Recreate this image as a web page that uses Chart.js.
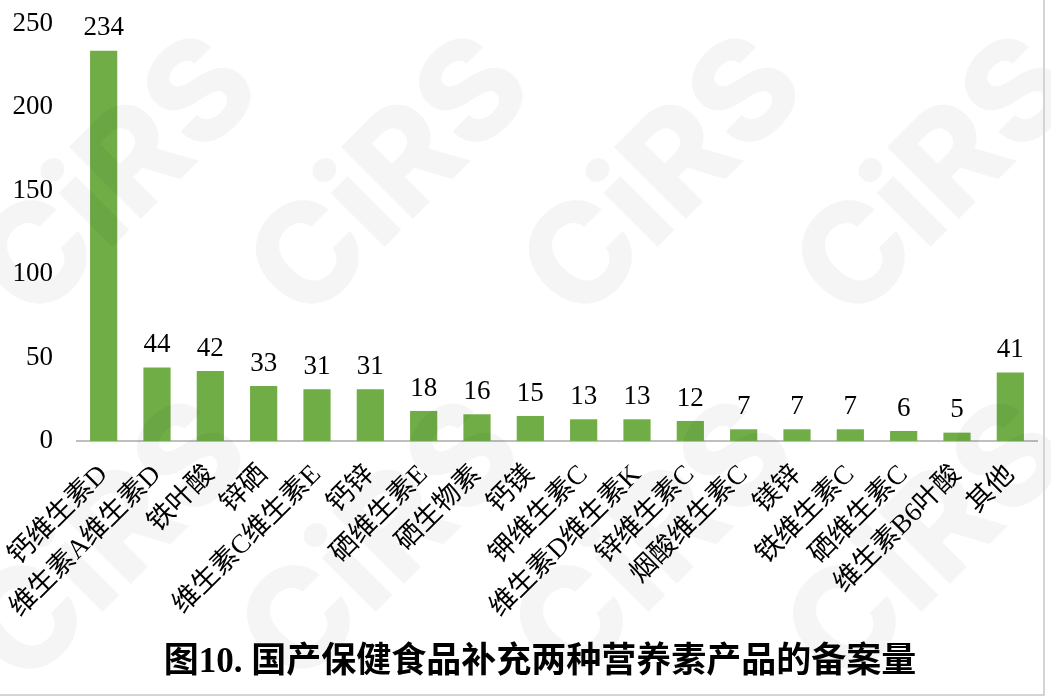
<!DOCTYPE html>
<html lang="zh">
  <head>
    <meta charset="UTF-8" />
    <title>备案量</title>
    <script src="https://cdn.jsdelivr.net/npm/chart.js@4"></script>
    <style>
      body { margin: 0; background: #fff; }
      #wrap { position: relative; width: 1051px; height: 698px; }
      .edge { position: absolute; background: #d4d4d4; }
    </style>
  </head>
  <body>
    <div id="wrap">
      <canvas id="Graph"></canvas>
      <div class="edge" style="left:1043px;top:0;width:2px;height:696px"></div>
      <div class="edge" style="left:0;top:694px;width:1045px;height:2px"></div>
    </div>

    <script>
      const categories = [
        '钙维生素D', '维生素A维生素D', '铁叶酸', '锌硒', '维生素C维生素E', '钙锌',
        '硒维生素E', '硒生物素', '钙镁', '钾维生素C', '维生素D维生素K', '锌维生素C',
        '烟酸维生素C', '镁锌', '铁维生素C', '硒维生素C', '维生素B6叶酸', '其他'
      ];
      const counts = [234, 44, 42, 33, 31, 31, 18, 16, 15, 13, 13, 12, 7, 7, 7, 6, 5, 41];
      const yTicks = [0, 50, 100, 150, 200, 250];
      const titleText = '图10. 国产保健食品补充两种营养素产品的备案量';

      const fontFamily = "'Liberation Serif', 'Noto Sans CJK SC', serif";

      // faint CiRS watermark, drawn over everything like the original
      const watermark = {
        id: 'watermark',
        afterDraw(chart) {
          const ctx = chart.ctx;
          const spots = [
            [120, 180], [392, 180], [665, 180], [938, 180],
            [110, 545], [383, 545], [656, 545], [929, 545]
          ];
          ctx.save();
          ctx.font = "800 140px 'Inter', 'DejaVu Sans', sans-serif";
          ctx.fillStyle = 'rgba(0, 0, 0, 0.04)';
          ctx.textAlign = 'center';
          ctx.textBaseline = 'middle';
          spots.forEach(([x, y]) => {
            ctx.save();
            ctx.translate(x, y);
            ctx.rotate(-Math.PI / 4);
            ctx.fillText('CiRS', 0, 0);
            ctx.restore();
          });
          ctx.restore();
        }
      };

      // value labels on top of each bar
      const barValues = {
        id: 'barValues',
        afterDatasetsDraw(chart) {
          const ctx = chart.ctx;
          const meta = chart.getDatasetMeta(0);
          ctx.save();
          ctx.font = '27px ' + fontFamily;
          ctx.fillStyle = '#000';
          ctx.textAlign = 'center';
          ctx.textBaseline = 'bottom';
          meta.data.forEach((bar, i) => {
            ctx.fillText(counts[i], bar.x, bar.y - 9);
          });
          ctx.restore();
        }
      };

      const element = document.getElementById('Graph').getContext('2d');
      const Graph = new Chart(element, {
        type: 'bar',
        data: {
          labels: categories,
          datasets: [
            {
              data: counts,
              backgroundColor: '#70AD47',
              categoryPercentage: 1,
              barPercentage: 0.51
            }
          ]
        },
        options: {
          responsive: true,
          maintainAspectRatio: false,
          animation: false,
          layout: { padding: { left: 8, right: 14, top: 0, bottom: 8 } },
          plugins: {
            legend: { display: false },
            tooltip: { enabled: false },
            title: {
              display: true,
              position: 'bottom',
              // leading ideographic space nudges the centred title right, as in the original
              text: '\u3000' + titleText,
              color: '#000',
              font: { family: fontFamily, size: 35, weight: 'bold' },
              padding: { top: 8, bottom: 6 }
            }
          },
          scales: {
            x: {
              grid: { display: false },
              border: { color: '#BFBFBF', width: 2 },
              // keep the rotated first label from pushing the plot right
              afterFit: axis => { axis.paddingLeft = 0; axis.paddingRight = 0; },
              ticks: {
                autoSkip: false,
                maxRotation: 45,
                minRotation: 45,
                color: '#000',
                padding: 10,
                font: { family: fontFamily, size: 27 }
              }
            },
            y: {
              min: 0,
              max: 250,
              afterBuildTicks: axis => { axis.ticks = yTicks.map(v => ({ value: v })); },
              afterFit: axis => { axis.paddingTop = 24; axis.width = 69; },
              grid: { display: false },
              border: { display: false },
              ticks: {
                color: '#000',
                padding: 16,
                font: { family: fontFamily, size: 27 }
              }
            }
          }
        },
        plugins: [barValues, watermark]
      });
    </script>
  </body>
</html>
